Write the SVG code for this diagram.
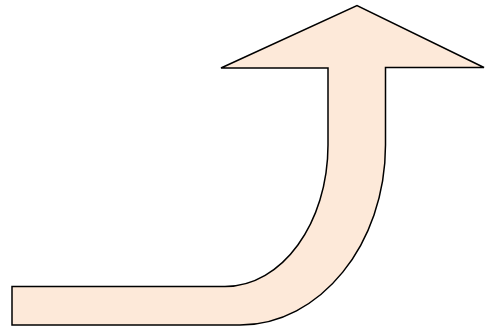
<svg xmlns="http://www.w3.org/2000/svg" width="485" height="326" viewBox="0 0 485 326">
<style>.shape{fill:#FDE9D9;stroke:#000;stroke-width:1.5;stroke-linejoin:miter}</style>
<g id="bent-arrow">
<path class="shape" d="M12,286.5 H225 C282,286.5 328,223 328,145 V68 H221 L357,5.5 L484,67.5 H385.5 V145 C385.5,244 320,325 240,325 H12 Z"/>
</g>
</svg>
